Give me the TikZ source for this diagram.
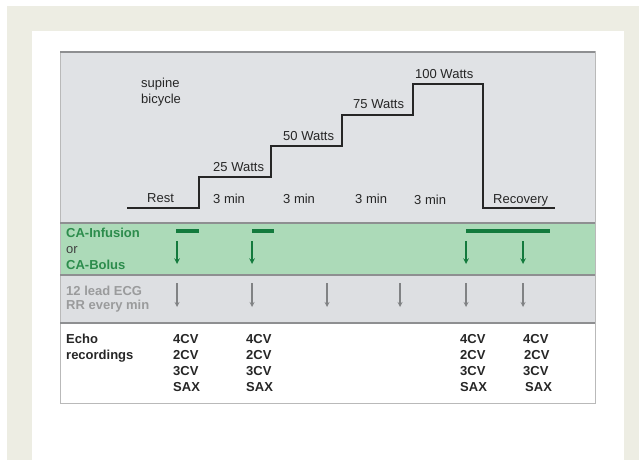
\documentclass[tikz,border=0pt]{standalone}
\usepackage{fontspec}
\setmainfont{Liberation Sans}
\usetikzlibrary{arrows}
\definecolor{beige}{HTML}{EDEDE3}
\definecolor{panelgray}{HTML}{E0E2E5}
\definecolor{bandgreen}{HTML}{ACDAB8}
\definecolor{bandgray}{HTML}{DDDFE2}
\definecolor{rulegray}{HTML}{8E8F91}
\definecolor{bargreen}{HTML}{137A3D}
\definecolor{textgreen}{HTML}{2C8C4C}
\definecolor{textgray}{HTML}{9A9B9C}
\definecolor{arrowgray}{HTML}{808284}
\tikzstyle{lbl}=[inner sep=0pt,anchor=base west,font=\fontsize{13}{15}\selectfont,text=black!85]
\tikzstyle{boldlbl}=[lbl,font=\fontsize{13}{15}\selectfont\bfseries]
\tikzstyle{calbl}=[boldlbl,text=textgreen]
\tikzstyle{ecglbl}=[boldlbl,text=textgray]
\tikzstyle{stair}=[line width=1.3pt,black!85]
\tikzstyle{bar}=[line width=4pt,bargreen]
\tikzstyle{caarrow}=[line width=1.5pt,->,>=stealth,bargreen]
\tikzstyle{ecgarrow}=[line width=1.2pt,->,>=stealth,arrowgray]
\tikzstyle{rule}=[line width=1.5pt,rulegray]

\begin{document}
\begin{tikzpicture}[x=1pt,y=-1pt]
\useasboundingbox (0,0) rectangle (639,460);
% backgrounds
\fill[white] (0,0) rectangle (639,460);
\fill[beige] (7,6) rectangle (639,460);
\fill[white] (32,31) rectangle (624,460);
\fill[panelgray] (60,52) rectangle (595,223);
\fill[bandgreen] (60,223) rectangle (595,275);
\fill[bandgray] (60,275) rectangle (595,323);
\draw[gray!55,line width=1pt] (60,52) rectangle (595,403);
\draw[rule] (60,52) -- (595,52);
\draw[rule] (60,223) -- (595,223);
\draw[rule] (60,275) -- (595,275);
\draw[rule] (60,323) -- (595,323);

% exercise protocol
\coordinate (rest) at (127,208);
\coordinate (w25) at (199,177);
\coordinate (w50) at (271,146);
\coordinate (w75) at (342,115);
\coordinate (w100) at (413,84);
\coordinate (drop) at (483,208);
\coordinate (recov) at (555,208);
\draw[stair] (rest) -| (w25) -| (w50) -| (w75) -| (w100) -| (drop) -- (recov);

\node (supine) [lbl] at (141,87) {supine};
\node (bicycle) [lbl] at (141,103) {bicycle};
\node (restlbl) [lbl] at (147,202) {Rest};
\node (min1) [lbl] at (213,203) {3 min};
\node (min2) [lbl] at (283,203) {3 min};
\node (min3) [lbl] at (355,203) {3 min};
\node (min4) [lbl] at (414,204) {3 min};
\node (recovlbl) [lbl] at (493,203) {Recovery};
\node (lbl25) [lbl] at (213,171) {25 Watts};
\node (lbl50) [lbl] at (283,140) {50 Watts};
\node (lbl75) [lbl] at (353,108) {75 Watts};
\node (lbl100) [lbl] at (415,78) {100 Watts};

% contrast agent
\node (cainf) [calbl] at (66,237) {CA-Infusion};
\node (caor) [lbl,text=black!75] at (66,253) {or};
\node (cabol) [calbl] at (66,269) {CA-Bolus};
\draw[bar] (176,231) -- (199,231);
\draw[bar] (252,231) -- (274,231);
\draw[bar] (466,231) -- (550,231);
\coordinate (ca1) at (177,241);
\coordinate (ca2) at (252,241);
\coordinate (ca3) at (466,241);
\coordinate (ca4) at (523,241);
\draw[caarrow] (ca1) -- +(0,23);
\draw[caarrow] (ca2) -- +(0,23);
\draw[caarrow] (ca3) -- +(0,23);
\draw[caarrow] (ca4) -- +(0,23);

% ecg
\node (ecg) [ecglbl] at (66,295) {12 lead ECG};
\node (rr) [ecglbl] at (66,309) {RR every min};
\coordinate (ecg1) at (177,283);
\coordinate (ecg2) at (252,283);
\coordinate (ecg3) at (327,283);
\coordinate (ecg4) at (400,283);
\coordinate (ecg5) at (466,283);
\coordinate (ecg6) at (523,283);
\draw[ecgarrow] (ecg1) -- +(0,24);
\draw[ecgarrow] (ecg2) -- +(0,24);
\draw[ecgarrow] (ecg3) -- +(0,24);
\draw[ecgarrow] (ecg4) -- +(0,24);
\draw[ecgarrow] (ecg5) -- +(0,24);
\draw[ecgarrow] (ecg6) -- +(0,24);

% echo recordings
\node (echo) [boldlbl] at (66,343) {Echo};
\node (recs) [boldlbl] at (66,359) {recordings};
\node (ea1) [boldlbl] at (173,343) {4CV};
\node (ea2) [boldlbl] at (173,359) {2CV};
\node (ea3) [boldlbl] at (173,375) {3CV};
\node (ea4) [boldlbl] at (173,391) {SAX};
\node (eb1) [boldlbl] at (246,343) {4CV};
\node (eb2) [boldlbl] at (246,359) {2CV};
\node (eb3) [boldlbl] at (246,375) {3CV};
\node (eb4) [boldlbl] at (246,391) {SAX};
\node (ec1) [boldlbl] at (460,343) {4CV};
\node (ec2) [boldlbl] at (460,359) {2CV};
\node (ec3) [boldlbl] at (460,375) {3CV};
\node (ec4) [boldlbl] at (460,391) {SAX};
\node (ed1) [boldlbl] at (523,343) {4CV};
\node (ed2) [boldlbl] at (524,359) {2CV};
\node (ed3) [boldlbl] at (523,375) {3CV};
\node (ed4) [boldlbl] at (525,391) {SAX};
\end{tikzpicture}
\end{document}
